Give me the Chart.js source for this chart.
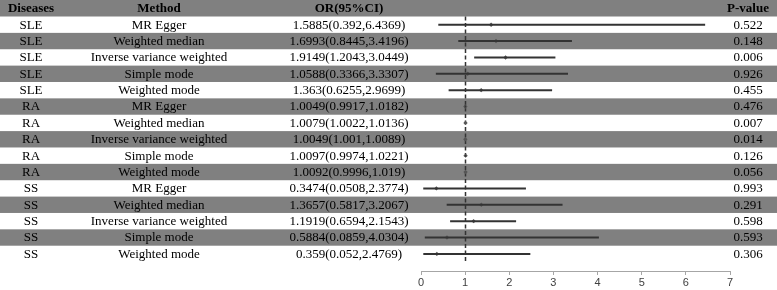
<!DOCTYPE html>
<html>
<head>
<meta charset="utf-8">
<script src="https://cdn.jsdelivr.net/npm/chart.js@4"></script>
<style>
  html, body { margin: 0; padding: 0; background: #ffffff; }
  #wrap { width: 777px; height: 290px; position: relative; }
</style>
</head>
<body>
<div id="wrap"><canvas id="c" width="777" height="290"></canvas></div>
<script>
const diseases = ['SLE','SLE','SLE','SLE','SLE','RA','RA','RA','RA','RA','SS','SS','SS','SS','SS'];
const methods = ['MR Egger','Weighted median','Inverse variance weighted','Simple mode','Weighted mode',
                 'MR Egger','Weighted median','Inverse variance weighted','Simple mode','Weighted mode',
                 'MR Egger','Weighted median','Inverse variance weighted','Simple mode','Weighted mode'];
const orValues = [1.5885,1.6993,1.9149,1.0588,1.363,1.0049,1.0079,1.0049,1.0097,1.0092,0.3474,1.3657,1.1919,0.5884,0.359];
const ciLower  = [0.392,0.8445,1.2043,0.3366,0.6255,0.9917,1.0022,1.001,0.9974,0.9996,0.0508,0.5817,0.6594,0.0859,0.052];
const ciUpper  = [6.4369,3.4196,3.0449,3.3307,2.9699,1.0182,1.0136,1.0089,1.0221,1.019,2.3774,3.2067,2.1543,4.0304,2.4769];
const pValues  = ['0.522','0.148','0.006','0.926','0.455','0.476','0.007','0.014','0.126','0.056','0.993','0.291','0.598','0.593','0.306'];
const headers  = ['Diseases','Method','OR(95%CI)','P-value'];
const xTickMin = 0, xTickMax = 7, xTickStep = 1;
const refValue = 1;

const GRAY = '#808080';
const SERIF = '"Liberation Serif", "Times New Roman", serif';

const datasets = [];
for (let i = 0; i < orValues.length; i++) {
  datasets.push({
    type: 'line',
    data: [{x: ciLower[i], y: i}, {x: ciUpper[i], y: i}],
    borderColor: '#333333',
    borderWidth: 2,
    pointRadius: 0,
    fill: false
  });
}
datasets.push({
  type: 'scatter',
  data: orValues.map((v, i) => ({x: v, y: i})),
  pointStyle: 'rectRot',
  pointRadius: 2.2,
  backgroundColor: '#555555',
  borderColor: '#555555',
  borderWidth: 0
});

const tablePlugin = {
  id: 'table',
  beforeDraw(chart) {
    const ctx = chart.ctx, y = chart.scales.y;
    const W = chart.width;
    ctx.save();
    ctx.fillStyle = '#ffffff';
    ctx.fillRect(0, 0, W, chart.height);
    ctx.fillStyle = GRAY;
    const top0 = y.getPixelForValue(-0.5);
    ctx.fillRect(0, 0, W, top0);
    for (let i = 0; i < orValues.length; i++) {
      if (i % 2 === 1) {
        const t = y.getPixelForValue(i - 0.5), b = y.getPixelForValue(i + 0.5);
        ctx.fillRect(0, t, W, b - t);
      }
    }
    ctx.restore();
  },
  beforeDatasetsDraw(chart) {
    const ctx = chart.ctx, x = chart.scales.x, y = chart.scales.y;
    const px = Math.round(x.getPixelForValue(refValue)) + 0.5;
    ctx.save();
    ctx.strokeStyle = '#333333';
    ctx.lineWidth = 1.5;
    ctx.setLineDash([4, 2.5]);
    ctx.beginPath();
    ctx.moveTo(px, y.getPixelForValue(-0.5));
    ctx.lineTo(px, y.getPixelForValue(orValues.length - 0.5));
    ctx.stroke();
    ctx.restore();
  },
  afterDraw(chart) {
    const ctx = chart.ctx, y = chart.scales.y;
    const cols = [31, 159, 349, 748];
    ctx.save();
    ctx.fillStyle = '#000000';
    ctx.textAlign = 'center';
    ctx.textBaseline = 'middle';
    ctx.font = 'bold 13px ' + SERIF;
    const hy = y.getPixelForValue(-0.5) / 2 + 0.5;
    headers.forEach((h, k) => ctx.fillText(h, cols[k], hy));
    ctx.font = '13px ' + SERIF;
    for (let i = 0; i < orValues.length; i++) {
      const cy = y.getPixelForValue(i) + 0.5;
      ctx.fillText(diseases[i], cols[0], cy);
      ctx.fillText(methods[i], cols[1], cy);
      ctx.fillText(orValues[i] + '(' + ciLower[i] + ',' + ciUpper[i] + ')', cols[2], cy);
      ctx.fillText(pValues[i], cols[3], cy);
    }
    ctx.restore();
  }
};

new Chart(document.getElementById('c'), {
  data: { datasets },
  options: {
    responsive: false,
    animation: false,
    events: [],
    layout: { padding: { left: 421, right: 47, top: 16.5, bottom: 0 } },
    plugins: { legend: { display: false }, tooltip: { enabled: false }, title: { display: false } },
    scales: {
      x: {
        type: 'linear',
        min: xTickMin, max: xTickMax,
        ticks: { stepSize: xTickStep, color: '#404040', padding: 2,
                 font: { family: '"Liberation Sans", Arial, sans-serif', size: 11, lineHeight: 1 } },
        grid: { drawOnChartArea: false, drawTicks: true, tickLength: 4, color: '#a6a6a6' },
        border: { display: true, color: '#a6a6a6', width: 1 }
      },
      y: {
        type: 'linear',
        display: false,
        reverse: true,
        min: -0.5, max: 15.045
      }
    }
  },
  plugins: [tablePlugin]
});
</script>
</body>
</html>
